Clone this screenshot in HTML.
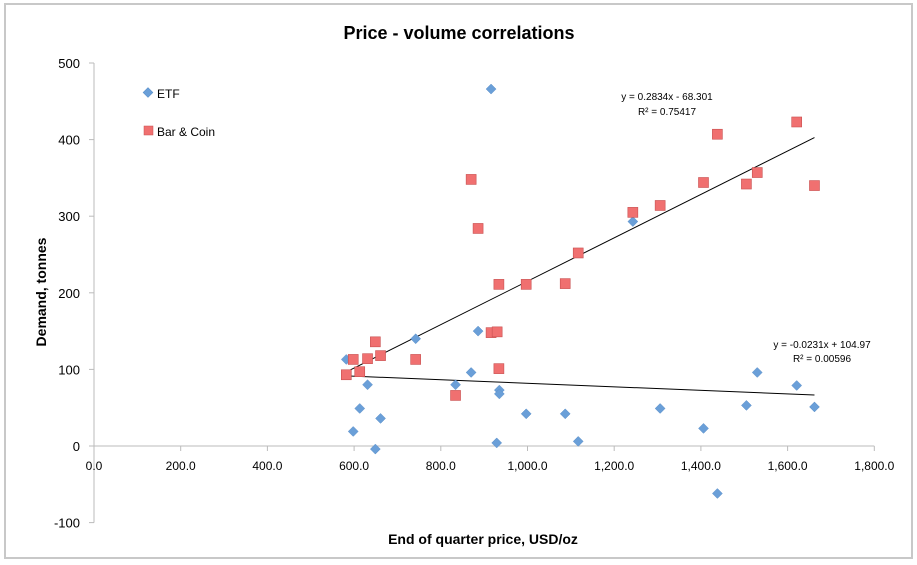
<!DOCTYPE html>
<html><head><meta charset="utf-8"><style>
body{margin:0;background:#fff;}
svg{display:block;font-family:"Liberation Sans",Calibri,sans-serif;}
</style></head><body>
<svg id="chart" width="917" height="565">
<rect x="5" y="4" width="907" height="554" fill="#fff" stroke="#c8c8c8" stroke-width="2"/>
<text x="459" y="39" text-anchor="middle" font-size="18" font-weight="bold">Price - volume correlations</text>
<text transform="translate(46,292) rotate(-90)" text-anchor="middle" font-size="14" font-weight="bold">Demand, tonnes</text>
<text x="483" y="544" text-anchor="middle" font-size="14" font-weight="bold">End of quarter price, USD/oz</text>
<g id="axes"></g>
<g id="lines"></g>
<g id="marks"></g>
<g>
<rect x="144.5" y="89" width="7" height="7" transform="rotate(45 148 92.5)" fill="#6a9fd8" stroke="#5b8fc8" stroke-width="0.5"/>
<text x="157" y="98" font-size="12">ETF</text>
<rect x="144" y="126" width="9" height="9" fill="#f07070" stroke="#c85050" stroke-width="0.5"/>
<text x="157" y="136" font-size="12">Bar &amp; Coin</text>
</g>
<text x="667" y="100" text-anchor="middle" font-size="10">y = 0.2834x - 68.301</text>
<text x="667" y="115" text-anchor="middle" font-size="10">R² = 0.75417</text>
<text x="822" y="348" text-anchor="middle" font-size="10">y = -0.0231x + 104.97</text>
<text x="822" y="362" text-anchor="middle" font-size="10">R² = 0.00596</text>
</svg>
<script>
const prices = [582,598,613,631,649,661,742,834,870,886,916,929,934,934,997,1087,1117,1243,1306,1406,1438,1505,1530,1621,1662];
const etfPrices = [582,598,613,631,649,661,742,834,870,886,916,929,935,935,997,1087,1117,1243,1306,1406,1438,1505,1530,1621,1662];
const etfValues = [113,19,49,80,-4,36,140,80,96,150,466,4,73,68,42,42,6,293,49,23,-62,53,96,79,51];
const barPrices = [582,598,613,631,649,661,742,834,870,886,916,930,934,934,997,1087,1117,1243,1306,1406,1438,1505,1530,1621,1662];
const barValues = [93,113,97,114,136,118,113,66,348,284,148,149,211,101,211,212,252,305,314,344,407,342,357,423,340];
const xTicks = [0,200,400,600,800,1000,1200,1400,1600,1800];
const yTicks = [-100,0,100,200,300,400,500];
const trendBar = [0.2834,-68.301];
const trendEtf = [-0.0231,104.97];

const NS="http://www.w3.org/2000/svg";
const X0=94, XS=0.4335, Y0=446, YS=0.766;
const xs=v=>X0+v*XS, ys=v=>Y0-v*YS;
function mk(tag,attrs,parent){const e=document.createElementNS(NS,tag);for(const k in attrs)e.setAttribute(k,attrs[k]);parent.appendChild(e);return e;}
const axes=document.getElementById('axes'), lines=document.getElementById('lines'), marks=document.getElementById('marks');
let e=mk('line',{x1:X0,y1:ys(500),x2:X0,y2:ys(-100),stroke:'#bbb'},axes);


e=mk('line',{x1:X0,y1:Y0,x2:xs(1800),y2:Y0,stroke:'#bbb'},axes);


yTicks.forEach(t=>{
 mk('line',{x1:X0-5,y1:ys(t),x2:X0,y2:ys(t),stroke:'#bbb'},axes);
 const tx=mk('text',{x:80,y:ys(t)+5,'text-anchor':'end','font-size':13},axes);
 tx.textContent=t;
 
 
});
xTicks.forEach(t=>{
 mk('line',{x1:xs(t),y1:Y0,x2:xs(t),y2:Y0+5,stroke:'#bbb'},axes);
 const tx=mk('text',{x:xs(t),y:470,'text-anchor':'middle','font-size':12},axes);
 tx.textContent=t.toLocaleString('en-US',{minimumFractionDigits:1,maximumFractionDigits:1});
 
 
});
const xmin=Math.min(...prices), xmax=Math.max(...prices);
[[trendBar,'bar-coin-trendline'],[trendEtf,'etf-trendline']].forEach(([c,n])=>{
 const l=mk('line',{x1:xs(xmin),y1:ys(c[0]*xmin+c[1]),x2:xs(xmax),y2:ys(c[0]*xmax+c[1]),stroke:'#000','stroke-width':1},lines);
 
 
});
etfValues.forEach((v,i)=>{
 const cx=xs(etfPrices[i]), cy=ys(v);
 const p=mk('polygon',{points:`${cx},${cy-5} ${cx+5},${cy} ${cx},${cy+5} ${cx-5},${cy}`,fill:'#6a9fd8',stroke:'#5b8fc8','stroke-width':0.5},marks);
 
 
});
barValues.forEach((v,i)=>{
 const cx=xs(barPrices[i]), cy=ys(v);
 const r=mk('rect',{x:cx-5,y:cy-5,width:10,height:10,fill:'#f07070',stroke:'#c85050','stroke-width':0.6},marks);
 
 
});
</script>
</body></html>
